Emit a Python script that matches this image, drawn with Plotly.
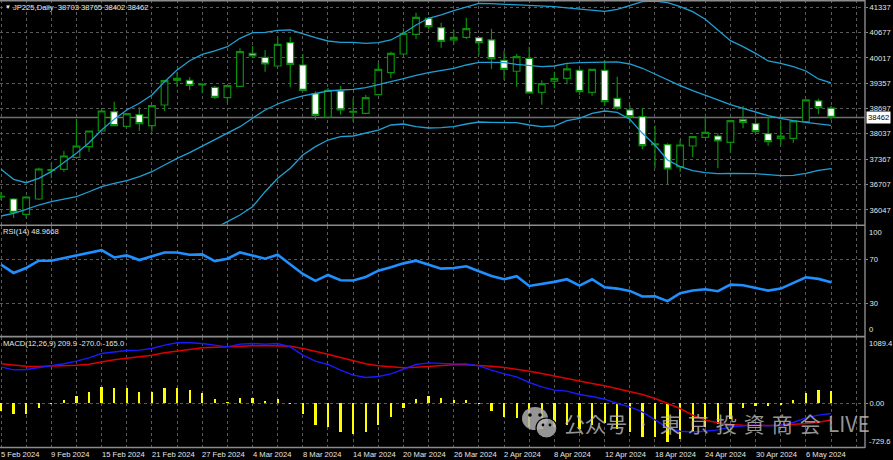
import pandas as pd
import plotly.graph_objects as go

# ---------------- data ----------------
dates = [d for d in pd.bdate_range("2024-02-05", "2024-05-08") if d != pd.Timestamp("2024-03-29")]

opens = [36400, 36334, 35934, 36334, 37080, 37108, 37422, 37699, 38108, 38612,
         38231, 38534, 38247, 38787, 39484, 39432, 39310, 39249, 38977, 39275,
         40136, 40032, 39805, 40413, 39831, 39082, 38474, 39152, 38600, 38570,
         39056, 39630, 40118, 40632, 41050, 40805, 40484, 40554, 40544, 40484,
         39954, 39667, 40006, 39118, 39406, 39484, 39693, 39118, 39693, 38962,
         38657, 38482, 37755, 37751, 37177, 37717, 37944, 37978, 37813, 38403,
         38299, 38038, 37918, 37918, 38351, 38892, 38703]
highs = [36516, 36360, 36412, 37150, 37265, 37594, 38422, 38120, 38674, 38873,
         38578, 38727, 38769, 39440, 39641, 39510, 39369, 39283, 39291, 40267,
         40327, 40223, 40569, 40569, 40110, 39145, 39231, 39283, 38962, 39048,
         39891, 40178, 40789, 41196, 41084, 40935, 40763, 41066, 40550, 40778,
         40204, 40118, 40309, 39432, 39656, 39849, 39760, 39719, 39962, 39526,
         38787, 38700, 38247, 37787, 37873, 37960, 38481, 38048, 38377, 38761,
         38570, 38481, 38377, 38369, 38918, 38951, 38765]
lows = [36308, 35838, 35830, 36308, 36874, 37046, 37404, 37568, 38100, 38239,
        38213, 38116, 38090, 38630, 39265, 39178, 39092, 38943, 38847, 39275,
        40006, 39656, 39805, 39249, 39170, 38395, 38466, 38534, 38351, 38544,
        39040, 39484, 40100, 40510, 40763, 40283, 40361, 40510, 40092, 39727,
        39447, 39265, 39100, 38795, 39223, 39327, 39048, 39030, 38761, 38657,
        38309, 37631, 37135, 36717, 37046, 37422, 37944, 37135, 37553, 38179,
        38090, 37725, 37743, 37803, 38351, 38544, 38402]
closes = [36386, 35986, 36386, 37117, 37100, 37456, 37717, 38108, 38630, 38247,
          38560, 38299, 38769, 39421, 39432, 39301, 39325, 38988, 39291, 40178,
          40066, 39857, 40371, 39849, 39170, 38518, 39170, 38657, 38620, 38977,
          39719, 40136, 40658, 41076, 40831, 40450, 40554, 40779, 40413, 39995,
          39719, 40048, 39100, 39343, 39474, 39727, 39134, 39719, 38873, 38709,
          38482, 37725, 37770, 37117, 37743, 37960, 38074, 37847, 38377, 38335,
          38090, 37829, 37978, 38369, 38918, 38717, 38462]

bb_upper = [37109, 36848, 36759, 36874, 37046, 37281, 37526, 37803, 38134, 38414,
            38657, 38831, 39048, 39395, 39700, 39943, 40110, 40200, 40309, 40527,
            40674, 40684, 40736, 40744, 40640, 40544, 40457, 40423, 40423, 40397,
            40413, 40484, 40658, 40875, 41050, 41136, 41249, 41353, 41441, 41431,
            41415, 41415, 41389, 41371, 41353, 41319, 41284, 41258, 41232, 41284,
            41379, 41484, 41501, 41457, 41353, 41223, 41023, 40744, 40466, 40309,
            40136, 39935, 39875, 39787, 39674, 39466, 39361]
bb_middle = [35890, 35960, 36065, 36177, 36263, 36325, 36393, 36523, 36654, 36743,
             36811, 36915, 37046, 37221, 37395, 37542, 37717, 37885, 38048, 38221,
             38440, 38657, 38813, 38936, 39022, 39092, 39152, 39178, 39196, 39238,
             39309, 39395, 39474, 39562, 39630, 39682, 39745, 39831, 39901, 39901,
             39891, 39849, 39813, 39787, 39805, 39875, 39891, 39901, 39917, 39910,
             39857, 39745, 39596, 39440, 39291, 39160, 39030, 38918, 38795, 38700,
             38612, 38508, 38440, 38377, 38335, 38291, 38257]
bb_lower = [34671, 35072, 35371, 35480, 35480, 35369, 35260, 35243, 35174, 35072,
            34965, 34999, 35044, 35047, 35090, 35141, 35324, 35570, 35741, 35916,
            36133, 36524, 36874, 37135, 37482, 37699, 37873, 37960, 37978, 38064,
            38134, 38265, 38291, 38221, 38186, 38195, 38221, 38291, 38343, 38335,
            38325, 38325, 38265, 38221, 38239, 38377, 38440, 38570, 38630, 38596,
            38414, 38048, 37743, 37352, 37177, 37073, 37020, 36994, 37004, 37004,
            36994, 36968, 36942, 36950, 37004, 37082, 37125]

rsi = [64.9, 57.4, 61.9, 68.5, 68.5, 70.9, 72.7, 75.1, 78.1, 71.5,
       73.3, 69.1, 72.4, 76.0, 76.0, 73.9, 74.2, 68.2, 70.3, 76.0,
       73.3, 70.3, 73.9, 64.9, 56.5, 50.2, 55.6, 50.8, 50.5, 53.8,
       59.5, 62.5, 66.1, 68.5, 65.2, 61.3, 61.9, 63.4, 58.9, 54.7,
       51.7, 54.4, 45.6, 47.4, 49.3, 51.7, 45.9, 51.7, 44.4, 43.2,
       41.1, 36.0, 36.3, 31.8, 39.0, 41.4, 42.6, 40.8, 46.8, 46.2,
       43.8, 41.4, 43.2, 48.0, 53.5, 52.0, 48.9668]

macd_hist = [-126, -180, -170, -71, -5, 54, 120, 180, 273, 251,
             251, 191, 191, 246, 257, 213, 164, 66, 22, 93,
             93, 44, 66, -11, -169, -355, -388, -464, -508, -475,
             -355, -219, -71, 76, 120, 85, 49, 49, -11, -120,
             -224, -246, -383, -415, -383, -355, -421, -355, -328, -410,
             -464, -546, -546, -639, -585, -464, -383, -344, -257, -71,
             -44, -49, -22, 49, 164, 213, 209.9]
macd_main = [600, 551, 557, 589, 611, 650, 693, 748, 819, 846,
             868, 874, 901, 956, 994, 994, 983, 956, 928, 972,
             983, 972, 983, 928, 792, 693, 639, 546, 464, 426,
             442, 486, 568, 639, 666, 655, 649, 649, 617, 546,
             485, 437, 344, 273, 218, 202, 147, 114, 70, 0,
             -55, -137, -273, -399, -454, -465, -454, -432, -383, -366,
             -355, -366, -355, -312, -235, -191, -165.0]
macd_signal = [650, 628, 611, 606, 611, 617, 628, 644, 682, 715,
               742, 764, 792, 830, 863, 885, 912, 923, 928, 934,
               945, 950, 950, 939, 901, 857, 808, 753, 699, 650,
               617, 595, 584, 595, 611, 625, 633, 633, 628, 611,
               590, 562, 529, 491, 453, 409, 371, 327, 289, 245,
               202, 147, 81, 0, -82, -191, -273, -317, -344, -355,
               -361, -361, -355, -344, -328, -306, -270.0]

price_ticks = [41337, 40677, 40017, 39357, 38697, 38037, 37367, 36707, 36047]
rsi_ticks = [70, 30]
rsi_range = [0, 100]
macd_range = [-729.6, 1089.4]
label_every = 4

n = len(dates)
for arr in (opens, highs, lows, closes, bb_upper, bb_middle, bb_lower, rsi, macd_hist, macd_main, macd_signal):
    assert len(arr) == n, (len(arr), n)
xs = list(range(n))

# ---------------- style ----------------
FONT = "Liberation Sans, Arial, sans-serif"
FS = 7.6
TXT = "#e6e6e6"
GRID = "#5a5a5a"
GREEN = "#0a8f0a"
BB = "#1fa0d4"
W, H = 893, 460
PLOT_R = 865          # right edge of plot area (px)
PLOT_B = 448          # bottom edge of plot area (px)


def px(x):
    return x / PLOT_R


def py(y):
    return (PLOT_B - y) / PLOT_B


fig = go.Figure()

fig.add_trace(go.Candlestick(
    x=xs, open=opens, high=highs, low=lows, close=closes,
    increasing=dict(line=dict(color=GREEN, width=1.2), fillcolor="black"),
    decreasing=dict(line=dict(color=GREEN, width=1.2), fillcolor="white"),
    whiskerwidth=0, xaxis="x", yaxis="y", hoverinfo="skip", showlegend=False))

for series in (bb_upper, bb_middle, bb_lower):
    fig.add_trace(go.Scatter(x=xs, y=series, mode="lines", line=dict(color=BB, width=1.3),
                             xaxis="x", yaxis="y", hoverinfo="skip", showlegend=False))

fig.add_trace(go.Scatter(x=xs, y=rsi, mode="lines", line=dict(color="#1e90ff", width=2.6),
                         xaxis="x2", yaxis="y2", hoverinfo="skip", showlegend=False))

fig.add_trace(go.Bar(x=xs, y=macd_hist, width=0.18, marker=dict(color="#ffff00", line=dict(width=0)),
                     xaxis="x3", yaxis="y3", hoverinfo="skip", showlegend=False))
fig.add_trace(go.Scatter(x=xs, y=macd_signal, mode="lines", line=dict(color="#dd0000", width=1.5),
                         xaxis="x3", yaxis="y3", hoverinfo="skip", showlegend=False))
fig.add_trace(go.Scatter(x=xs, y=macd_main, mode="lines", line=dict(color="#1a1aff", width=1.4),
                         xaxis="x3", yaxis="y3", hoverinfo="skip", showlegend=False))

xcommon = dict(range=[-0.08, 68.7], showticklabels=False, showgrid=True, gridcolor=GRID,
               griddash="dot", gridwidth=1, tick0=0, dtick=2, zeroline=False, showline=False,
               ticks="")
yfont = dict(family=FONT, size=FS, color=TXT)
ycommon = dict(side="right", showgrid=True, gridcolor=GRID, griddash="dot", gridwidth=1,
               zeroline=False, showline=False, ticks="outside", ticklen=2, tickcolor="#8a8a8a",
               tickfont=yfont, fixedrange=True)

fig.update_layout(
    width=W, height=H,
    margin=dict(l=0, r=W - PLOT_R, t=0, b=H - PLOT_B),
    paper_bgcolor="black", plot_bgcolor="black",
    boxgap=0.24, bargap=0,
    xaxis=dict(anchor="y", domain=[0, 1], rangeslider=dict(visible=False), **xcommon),
    xaxis2=dict(anchor="y2", domain=[0, 1], matches="x", **xcommon),
    xaxis3=dict(anchor="y3", domain=[0, 1], matches="x", **xcommon),
    yaxis=dict(anchor="x", domain=[py(224.5), 1], range=[35668, 41527],
               tickvals=price_ticks, ticktext=[str(v) for v in price_ticks], **ycommon),
    yaxis2=dict(anchor="x2", domain=[py(336.2), py(226)], range=rsi_range,
                tickvals=rsi_ticks, ticktext=[str(v) for v in rsi_ticks], **ycommon),
    yaxis3=dict(anchor="x3", domain=[0, py(337)], range=macd_range,
                tickvals=[0], ticktext=["0.00"], **ycommon),
)

shapes = []
# bid line at last close
shapes.append(dict(type="line", xref="x domain", yref="y", x0=0, x1=1, y0=closes[-1], y1=closes[-1],
                   line=dict(color="#6e6e6e", width=1.5), layer="below"))
# panel frames
for yy in (0.6, 225.2, 336.6, PLOT_B - 0.5):
    shapes.append(dict(type="line", xref="paper", yref="paper", x0=0, x1=1, y0=py(yy), y1=py(yy),
                       line=dict(color="#8c8c8c", width=1.6)))
shapes.append(dict(type="line", xref="paper", yref="paper", x0=1, x1=1, y0=0, y1=1,
                   line=dict(color="#8c8c8c", width=1.4)))
# wechat-like watermark icon
ICON = "rgba(175,175,175,0.85)"
shapes.append(dict(type="circle", xref="paper", yref="paper", x0=px(522), x1=px(548), y0=py(430), y1=py(407),
                   fillcolor=ICON, line=dict(width=0)))
shapes.append(dict(type="circle", xref="paper", yref="paper", x0=px(536), x1=px(557), y0=py(438), y1=py(418),
                   fillcolor=ICON, line=dict(color="black", width=1.2)))
for cx, cy, r in ((530, 415, 1.8), (540, 415, 1.8), (543, 425, 1.4), (550, 425, 1.4)):
    shapes.append(dict(type="circle", xref="paper", yref="paper", x0=px(cx - r), x1=px(cx + r),
                       y0=py(cy + r), y1=py(cy - r), fillcolor="black", line=dict(width=0)))
fig.update_layout(shapes=shapes)

ann = []
lab = dict(family=FONT, size=FS, color=TXT)
ann.append(dict(text="▼", xref="paper", yref="paper", x=px(3), y=py(7), xanchor="left", yanchor="middle",
                showarrow=False, font=dict(family=FONT, size=6, color=TXT)))
ann.append(dict(text=f"JP225,Daily  {opens[-1]} {highs[-1]} {lows[-1]} {closes[-1]}",
                xref="paper", yref="paper", x=px(11), y=py(7), xanchor="left", yanchor="middle",
                showarrow=False, font=lab))
ann.append(dict(text=f"RSI(14) {rsi[-1]:.4f}", xref="paper", yref="paper", x=px(1), y=py(231),
                xanchor="left", yanchor="middle", showarrow=False, font=lab))
ann.append(dict(text=f"MACD(12,26,9) {macd_hist[-1]:.1f} {macd_signal[-1]:.1f} {macd_main[-1]:.1f}",
                xref="paper", yref="paper", x=px(1), y=py(343), xanchor="left", yanchor="middle",
                showarrow=False, font=lab))
# panel extreme labels
ann.append(dict(text=str(rsi_range[1]), xref="paper", yref="y2", x=1, y=rsi_range[1], xanchor="left",
                yanchor="top", xshift=2, showarrow=False, font=lab))
ann.append(dict(text=str(rsi_range[0]), xref="paper", yref="y2", x=1, y=rsi_range[0], xanchor="left",
                yanchor="bottom", xshift=2, showarrow=False, font=lab))
ann.append(dict(text=f"{macd_range[1]:.1f}", xref="paper", yref="y3", x=1, y=macd_range[1], xanchor="left",
                yanchor="top", xshift=2, showarrow=False, font=lab))
ann.append(dict(text=f"{macd_range[0]:.1f}", xref="paper", yref="y3", x=1, y=macd_range[0], xanchor="left",
                yanchor="bottom", xshift=2, showarrow=False, font=lab))
# current price box
ann.append(dict(text=str(closes[-1]), xref="paper", yref="y", x=1, y=closes[-1], xanchor="left",
                yanchor="middle", xshift=1, showarrow=False, bgcolor="white", borderpad=1,
                font=dict(family=FONT, size=FS, color="black")))
# date labels
for i in range(0, n, label_every):
    d = dates[i]
    ann.append(dict(text=f"{d.day} {d.strftime('%b %Y')}", xref="x3", yref="paper", x=i, y=0,
                    xanchor="left", yanchor="top", xshift=-2, yshift=0, showarrow=False, font=lab))
# watermark
WM = dict(family="Noto Sans CJK JP, Noto Sans CJK SC", size=21, color="rgba(190,190,190,0.8)")
ann.append(dict(text="公众号\u2002·\u2002" + "\u2004".join("東京投資商会") + "\u2004LIVE",
                xref="paper", yref="paper", x=px(562), y=py(423),
                xanchor="left", yanchor="middle", showarrow=False, font=WM))
fig.update_layout(annotations=ann)

fig.write_html("out.html", config={"displayModeBar": False, "staticPlot": True},
               post_script="document.body.style.margin='0';document.body.style.padding='0';")
